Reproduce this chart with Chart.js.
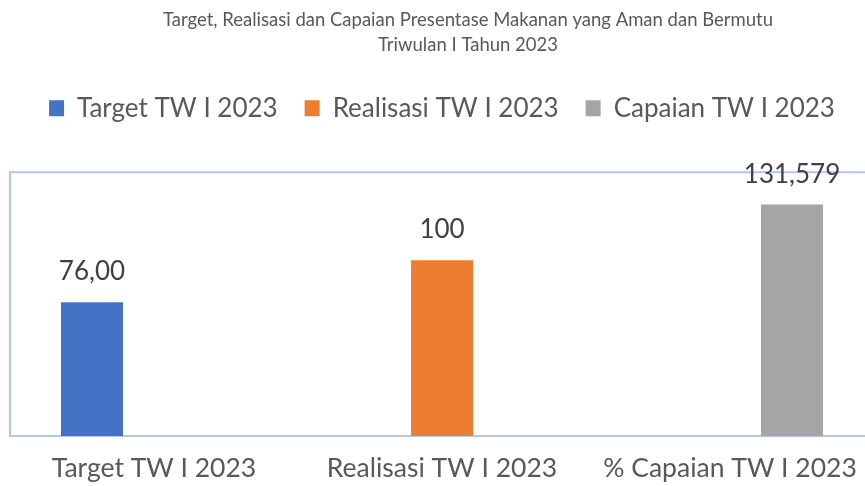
<!DOCTYPE html>
<html>
<head>
<meta charset="utf-8">
<script src="https://cdn.jsdelivr.net/npm/chart.js@4.4.1/dist/chart.umd.min.js"></script>
<style>
  html, body { margin: 0; padding: 0; background: #fff; overflow: hidden; }
  #wrap { width: 926px; height: 486px; }
</style>
</head>
<body>
<div id="wrap"><canvas id="chart" width="926" height="486"></canvas></div>
<script>
const categories = ['Target TW I 2023', 'Realisasi TW I 2023', '% Capaian TW I 2023'];
const seriesNames = ['Target TW I 2023', 'Realisasi TW I 2023', 'Capaian TW I 2023'];
const targetValues = [76, null, null];
const realisasiValues = [null, 100, null];
const capaianValues = [null, null, 131.579];
const valueLabels = ['76,00', '100', '131,579'];
const titleLines = ['Target, Realisasi dan Capaian Presentase Makanan yang Aman dan Bermutu', 'Triwulan I Tahun 2023'];

const FONT = 'Lato';
const TEXT = '#595959';

// light blue frame round the plot area
const plotFrame = {
    id: 'plotFrame',
    beforeDatasetsDraw(chart) {
        const { ctx, chartArea: a } = chart;
        ctx.save();
        ctx.strokeStyle = '#B4C7E7';
        ctx.lineWidth = 2;
        ctx.strokeRect(a.left, a.top, a.right - a.left, a.bottom - a.top);
        ctx.restore();
    }
};

// value labels above each bar
const barLabels = {
    id: 'barLabels',
    afterDatasetsDraw(chart) {
        const ctx = chart.ctx;
        ctx.save();
        ctx.font = '26px ' + FONT;
        ctx.fillStyle = '#404040';
        ctx.textAlign = 'center';
        ctx.textBaseline = 'alphabetic';
        chart.data.datasets.forEach((ds, i) => {
            chart.getDatasetMeta(i).data.forEach((bar, j) => {
                if (ds.data[j] == null) return;
                ctx.fillText(valueLabels[i], bar.x, bar.y - 22);
            });
        });
        ctx.restore();
    }
};

// extra space under the legend
const legendGap = {
    id: 'legendGap',
    beforeInit(chart) {
        const fit = chart.legend.fit;
        chart.legend.fit = function () {
            fit.call(this);
            this.height += 41;
        };
    }
};

new Chart(document.getElementById('chart').getContext('2d'), {
    type: 'bar',
    data: {
        labels: categories,
        datasets: [
            { label: seriesNames[0], data: targetValues, backgroundColor: '#4472C4', borderWidth: 0 },
            { label: seriesNames[1], data: realisasiValues, backgroundColor: '#ED7D31', borderWidth: 0 },
            { label: seriesNames[2], data: capaianValues, backgroundColor: '#A5A5A5', borderWidth: 0 }
        ]
    },
    options: {
        responsive: false,
        animation: false,
        devicePixelRatio: 1,
        layout: { padding: { left: 10, right: 0, top: 0, bottom: 0 } },
        datasets: {
            bar: { categoryPercentage: 0.646, barPercentage: 1.0 }
        },
        scales: {
            x: {
                grid: { display: false, drawTicks: false },
                border: { display: false },
                ticks: {
                    color: TEXT,
                    padding: 17,
                    font: { family: FONT, size: 26.5 }
                },
                afterFit(scale) { scale.height = 50; }
            },
            y: {
                position: 'right',
                min: 0,
                max: 150,
                grid: { display: false, drawTicks: false },
                border: { display: false },
                ticks: { display: false },
                afterFit(scale) { scale.width = 52; }
            }
        },
        plugins: {
            title: {
                display: true,
                text: titleLines,
                color: TEXT,
                font: { family: FONT, size: 18.5, weight: 'normal', lineHeight: 1.33 },
                padding: { top: 8, bottom: 11 }
            },
            legend: {
                position: 'top',
                fullSize: false,
                labels: {
                    color: TEXT,
                    boxWidth: 15,
                    boxHeight: 16,
                    padding: 27,
                    font: { family: FONT, size: 26 }
                }
            },
            tooltip: { enabled: false }
        }
    },
    plugins: [plotFrame, barLabels, legendGap]
});
</script>
</body>
</html>
